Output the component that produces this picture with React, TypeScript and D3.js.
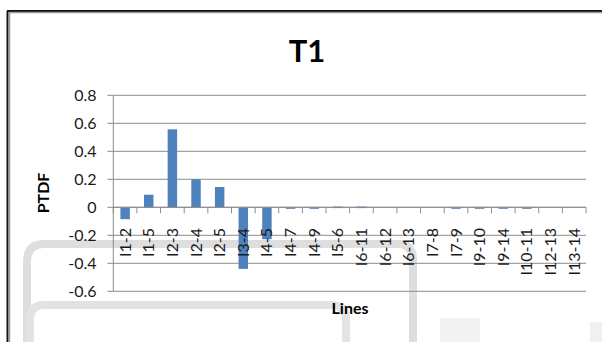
import React from "react";
import * as d3 from "d3";

// Line flows (PTDF) per transmission line
const lines = [
  "I1-2", "I1-5", "I2-3", "I2-4", "I2-5", "I3-4", "I4-5", "I4-7", "I4-9", "I5-6",
  "I6-11", "I6-12", "I6-13", "I7-8", "I7-9", "I9-10", "I9-14", "I10-11", "I12-13", "I13-14",
];
const ptdf = [
  -0.085, 0.09, 0.557, 0.2, 0.145, -0.44, -0.228, -0.005, -0.005, 0.005,
  0.005, 0, 0, 0, -0.005, -0.005, -0.005, -0.005, 0, 0,
];
const yTicks = [-0.6, -0.4, -0.2, 0, 0.2, 0.4, 0.6, 0.8];

const W = 602;
const H = 342;
const plot = { left: 113.3, right: 586, top: 95.3, bottom: 291.3 };
const FONT = "Lato, 'Liberation Sans', sans-serif";

export default function App() {
  const x = d3.scaleBand<string>().domain(lines).range([plot.left, plot.right]).padding(0);
  const y = d3.scaleLinear().domain([-0.6, 0.8]).range([plot.bottom, plot.top]);
  const step = x.step();
  const barW = step / 2.5;
  const y0 = y(0);

  // soft grey rounded outlines behind the chart
  const backdrop = [
    { d: "M27,342 L27,262 Q27,244 44,244 L398,244 Q413,244 413,260 L413,342", w: 8, c: "#dedede" },
    { d: "M30,342 L30,320 Q30,305 44,305 L332,305 Q346,305 346,320 L346,342", w: 8, c: "#e3e3e3" },
    { d: "M440,342 L440,318 L480,318 L480,342 Z", w: 0, c: "#f2f2f2" },
    { d: "M590,342 L590,322 L602,322 L602,342 Z", w: 0, c: "#f0f0f0" },
  ];

  return (
    <div style={{ position: "absolute", left: 0, top: 0 }}>
      <svg width={W} height={H} style={{ display: "block", background: "#fff" }}>
        {backdrop.map((b, i) =>
          b.w > 0 ? (
            <path key={i} d={b.d} fill="none" stroke={b.c} strokeWidth={b.w} />
          ) : (
            <path key={i} d={b.d} fill={b.c} />
          )
        )}

        {/* chart frame */}
        <line x1={7.5} y1={11} x2={7.5} y2={H} stroke="#111" strokeWidth={2} />
        <line x1={7} y1={11} x2={W} y2={11} stroke="#111" strokeWidth={2} />
        <line x1={9.5} y1={12.5} x2={9.5} y2={H} stroke="#9a9a9a" strokeWidth={1.5} />
        <line x1={9} y1={12.6} x2={W} y2={12.6} stroke="#9a9a9a" strokeWidth={1.5} />

        {/* title */}
        <text x={307} y={61.5} textAnchor="middle" fontFamily={FONT} fontWeight="bold" fontSize={31} fill="#000">
          T1
        </text>

        {/* gridlines and y ticks */}
        {yTicks.map((t) => (
          <g key={t}>
            <line x1={plot.left - 6} x2={plot.right} y1={y(t)} y2={y(t)} stroke="#8c8c8c" strokeWidth={1} />
            <text x={96.5} y={y(t)} dy="0.36em" textAnchor="end" fontFamily={FONT} fontSize={16} fill="#1a1a1a">
              {t === 0 ? "0" : t.toFixed(1)}
            </text>
          </g>
        ))}
        <line x1={plot.left} x2={plot.left} y1={plot.top} y2={plot.bottom} stroke="#8c8c8c" strokeWidth={1} />

        {/* bars */}
        {lines.map((l, i) => {
          const v = ptdf[i];
          const cx = (x(l) as number) + step / 2;
          const yv = y(v);
          return (
            <rect
              key={l}
              x={cx - barW / 2}
              y={Math.min(yv, y0)}
              width={barW}
              height={Math.max(Math.abs(yv - y0), v === 0 ? 0 : 1.5)}
              fill="#4f81bd"
            />
          );
        })}

        {/* category axis at zero */}
        <line x1={plot.left} x2={plot.right} y1={y0} y2={y0} stroke="#8c8c8c" strokeWidth={1} />
        {d3.range(lines.length + 1).map((i) => {
          const tx = plot.left + i * step;
          return <line key={i} x1={tx} x2={tx} y1={y0} y2={y0 + 6} stroke="#8c8c8c" strokeWidth={1} />;
        })}
        {lines.map((l) => {
          const cx = (x(l) as number) + step / 2;
          return (
            <text
              key={l}
              transform={`translate(${cx + 5.5},228) rotate(-90)`}
              textAnchor="end"
              fontFamily={FONT}
              fontSize={16}
              fill="#1a1a1a"
            >
              {l}
            </text>
          );
        })}

        {/* axis titles */}
        <text transform="translate(48.5,193) rotate(-90)" textAnchor="middle" fontFamily={FONT} fontWeight="bold" fontSize={16} fill="#000">
          PTDF
        </text>
        <text x={350} y={314} textAnchor="middle" fontFamily={FONT} fontWeight="bold" fontSize={16} fill="#000">
          Lines
        </text>
      </svg>
    </div>
  );
}
